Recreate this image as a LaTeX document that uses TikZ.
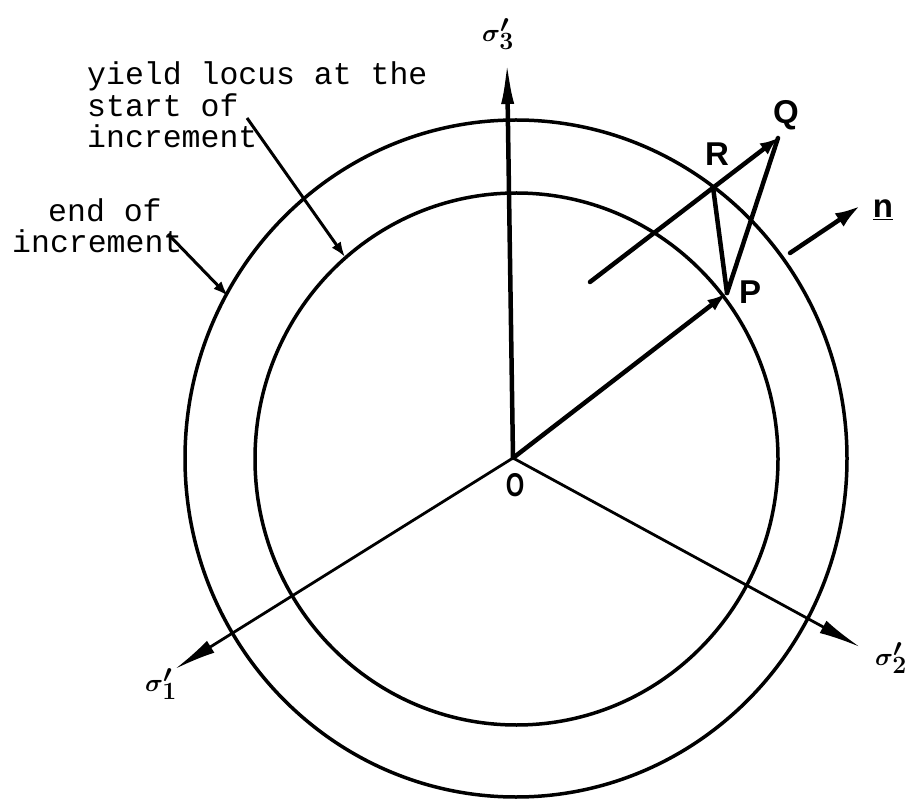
\documentclass[tikz,border=0pt]{standalone}
\usepackage{fontspec}
\setmonofont{Liberation Mono}
\newfontfamily\lettering{Liberation Sans}
\usetikzlibrary{arrows.meta}
\begin{document}
\begin{tikzpicture}[x=1pt,y=-1pt,
  lab/.style={font=\fontsize{31.5}{31.5}\selectfont\ttfamily, anchor=base west, inner sep=0pt},
  ptlab/.style={font=\fontsize{33}{33}\selectfont\lettering\bfseries, inner sep=0pt},
  siglab/.style={font=\fontsize{40}{40}\selectfont\boldmath, inner sep=0pt},
  locus/.style={line width=3.5pt},
  axis/.style={line width=2.8pt, -{Latex[length=42pt,width=14pt]}},
  mainaxis/.style={line width=4.5pt, -{Latex[length=44pt,width=13pt]}},
  vec/.style={line width=4.5pt, line cap=round},
  leader/.style={line width=3pt, -{Latex[length=15pt,width=11pt]}}]
\useasboundingbox (0,0) rectangle (916,799);
% yield loci
\draw[locus] (516,458.5) ellipse [x radius=331pt, y radius=338.5pt];
\draw[locus] (516.5,459) ellipse [x radius=261.5pt, y radius=266pt];
% axes
\coordinate (O) at (513,458);
\coordinate (s3) at (507,60);
\coordinate (s1) at (175,669);
\coordinate (s2) at (860,647);
\draw[mainaxis] (O) -- (s3);
\draw[axis] (O) -- (s1);
\draw[axis] (O) -- (s2);
\node[siglab] (l3) at (498,34) {$\sigma_3'$};
\node[siglab] (l1) at (161,684) {$\sigma_1'$};
\node[siglab] (l2) at (891,658) {$\sigma_2'$};
\node[ptlab] (lO) at (515,485) {\scalebox{0.72}[1]{O}};
% stress points
\coordinate (P) at (727,293);
\coordinate (R) at (713,187);
\coordinate (Q) at (778,138);
\coordinate (N0) at (590,282);
\draw[vec, -{Latex[length=20pt,width=13pt]}] (O) -- (P);
\draw[vec, -{Latex[length=18pt,width=14pt]}] (N0) -- (Q);
\draw[vec] (R) -- (P);
\draw[vec] (Q) -- (P);
\node[ptlab] (lP) at (750,292) {P};
\node[ptlab] (lR) at (717,154) {R};
\node[ptlab] (lQ) at (786,115) {Q};
% normal
\coordinate (n0) at (790,253);
\coordinate (n1) at (860,206);
\draw[vec, -{Latex[length=25pt,width=16pt]}] (n0) -- (n1);
\node[ptlab] (ln) at (883,210) {\underline{n}};
% labels
\node[lab] (t1) at (87,85) {yield locus at the};
\node[lab] (t2) at (87,117) {start of};
\node[lab] (t3) at (87,148) {increment};
\coordinate (a0) at (247,118);
\coordinate (a1) at (345,257);
\draw[leader] (a0) -- (a1);
\node[lab] (e1) at (48,222) {end of};
\node[lab] (e2) at (12,253) {increment};
\coordinate (b0) at (168,234);
\coordinate (b1) at (228,296);
\draw[leader] (b0) -- (b1);
\end{tikzpicture}
\end{document}
